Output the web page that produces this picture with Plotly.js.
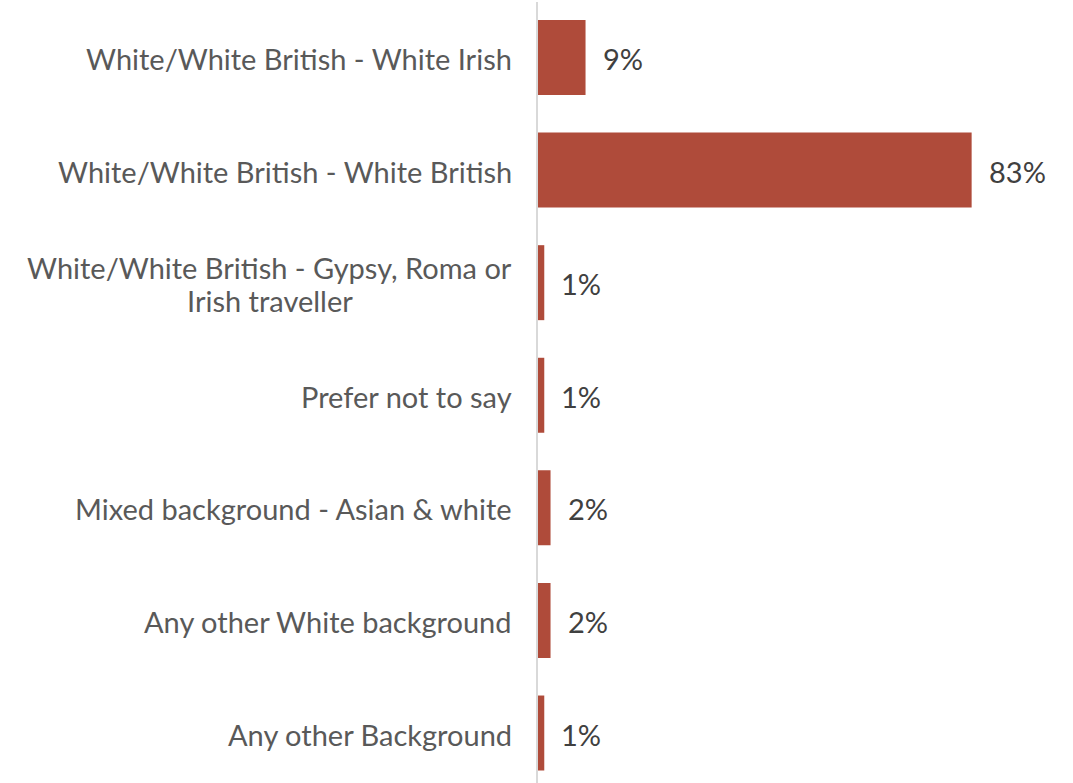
<!DOCTYPE html>
<html>
<head>
<meta charset="utf-8">
<script src="https://cdn.plot.ly/plotly-3.0.1.min.js"></script>
<style>html,body{margin:0;padding:0;background:#fff;}#chart{width:1073px;height:783px;}</style>
</head>
<body>
<div id="chart"></div>
<script>
const categories = [
  "White/White British - White Irish",
  "White/White British - White British",
  "White/White British - Gypsy, Roma or<br>Irish traveller",
  "Prefer not to say",
  "Mixed background - Asian & white",
  "Any other White background",
  "Any other Background"
];
const values = [9.1, 83, 1.2, 1.2, 2.4, 2.4, 1.2];
const valueLabels = ["9%", "83%", "1%", "1%", "2%", "2%", "1%"];

const catIdx = categories.map((c, i) => i);

const trace = {
  type: "bar",
  orientation: "h",
  x: values,
  y: catIdx,
  marker: {color: "#AF4B3A"},
  hoverinfo: "none"
};

const FONT = "Lato, sans-serif";
const SIZE = 29;
const LINE = 33;
const annotations = [];
categories.forEach((c, i) => {
  const lines = c.split("<br>");
  lines.forEach((ln, k) => {
    annotations.push({
      xref: "paper", yref: "y", x: 0, y: i,
      xanchor: "right", yanchor: "middle", xshift: -24,
      yshift: ((lines.length - 1) / 2 - k) * LINE - 1,
      text: ln, showarrow: false, align: "center",
      font: {family: FONT, size: SIZE, color: "#595959"}
    });
  });
  annotations.push({
    xref: "x", yref: "y", x: values[i], y: i,
    xanchor: "left", yanchor: "middle", xshift: 15, yshift: -1,
    text: valueLabels[i], showarrow: false,
    font: {family: FONT, size: SIZE, color: "#404040"}
  });
});

const layout = {
  width: 1073, height: 783,
  margin: {l: 538, r: 0, t: 2, b: 0},
  paper_bgcolor: "#fff", plot_bgcolor: "#fff",
  showlegend: false,
  bargap: 0.334,
  xaxis: {range: [0, 102.4], showgrid: false, zeroline: false, showticklabels: false, showline: false, fixedrange: true},
  yaxis: {range: [6.444, -0.493], showgrid: false, zeroline: false, showticklabels: false,
          showline: true, linecolor: "#D9D9D9", linewidth: 2, ticks: ""},
  annotations: annotations
};

Plotly.newPlot("chart", [trace], layout, {displayModeBar: false, staticPlot: true}).then(gd => {
  // Center shorter lines of multi-line labels under the widest line
  const nodes = gd.querySelectorAll(".annotation");
  const groups = {};
  annotations.forEach((a, j) => {
    if (a.xref === "paper") { (groups[a.y] = groups[a.y] || []).push(j); }
  });
  const upd = {};
  Object.values(groups).forEach(idx => {
    if (idx.length < 2) return;
    const widths = idx.map(j => nodes[j].querySelector("text").getBBox().width);
    const maxW = Math.max(...widths);
    idx.forEach((j, k) => {
      upd["annotations[" + j + "].xshift"] = annotations[j].xshift - (maxW - widths[k]) / 2;
    });
  });
  if (Object.keys(upd).length) Plotly.relayout(gd, upd);
});
</script>
</body>
</html>
